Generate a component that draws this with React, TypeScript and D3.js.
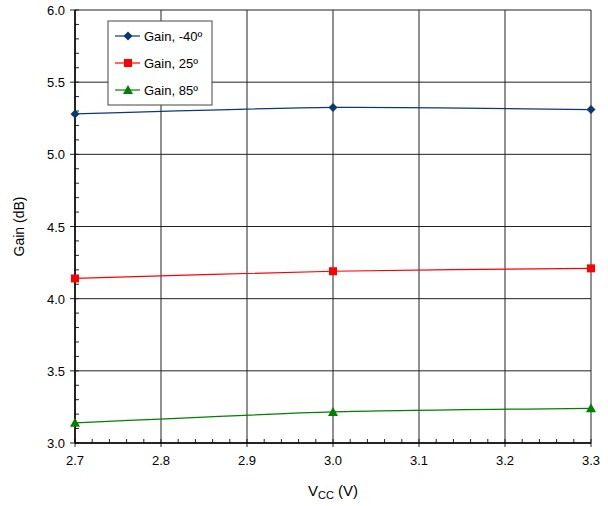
import React from "react";
import * as d3 from "d3";

const vcc = [2.7, 3.0, 3.3];
const gainM40 = [5.28, 5.325, 5.31];
const gain25 = [4.14, 4.19, 4.21];
const gain85 = [3.14, 3.215, 3.24];
const xTicks = [2.7, 2.8, 2.9, 3.0, 3.1, 3.2, 3.3];
const yTicks = [3.0, 3.5, 4.0, 4.5, 5.0, 5.5, 6.0];
const seriesNames = ["Gain, -40º", "Gain, 25º", "Gain, 85º"];

const W = 608, H = 506;
const L = 75, R = 591, T = 10, B = 443;

export default function App() {
  const x = d3.scaleLinear().domain([2.7, 3.3]).range([L, R]);
  const y = d3.scaleLinear().domain([3.0, 6.0]).range([B, T]);
  const line = d3.line<number>().x((_, i) => x(vcc[i])).y((d) => y(d)).curve(d3.curveCardinal.tension(0.3));
  const series = [
    { name: seriesNames[0], data: gainM40, color: "#0b3a73", marker: "diamond" },
    { name: seriesNames[1], data: gain25, color: "#ff0000", marker: "square" },
    { name: seriesNames[2], data: gain85, color: "#008000", marker: "triangle" },
  ];
  const xMinor = d3.range(0, 31).map((i) => 2.7 + i * 0.02);
  const yMinor = d3.range(0, 31).map((i) => 3.0 + i * 0.1);
  const font = "Liberation Sans, Arial, sans-serif";

  const marker = (m: string, cx: number, cy: number, color: string, key: any) => {
    if (m === "diamond")
      return <path key={key} d={`M${cx},${cy - 4.5}L${cx + 4.5},${cy}L${cx},${cy + 4.5}L${cx - 4.5},${cy}Z`} fill={color} />;
    if (m === "square") return <rect key={key} x={cx - 4} y={cy - 4} width={8} height={8} fill={color} />;
    return <path key={key} d={`M${cx},${cy - 5}L${cx + 5},${cy + 4}L${cx - 5},${cy + 4}Z`} fill={color} />;
  };

  return (
    <svg width={W} height={H} style={{ position: "absolute", left: 0, top: 0, background: "#fff" }} fontFamily={font}>
      <rect x={0} y={0} width={W} height={H} fill="#fff" />
      {/* grid */}
      {yTicks.map((t) => (
        <line key={"gy" + t} x1={L - 5} x2={R} y1={y(t)} y2={y(t)} stroke="#222" strokeWidth={1} />
      ))}
      {xTicks.map((t) => (
        <line key={"gx" + t} x1={x(t)} x2={x(t)} y1={T} y2={B + 4} stroke="#222" strokeWidth={1} />
      ))}
      {/* minor ticks */}
      {yMinor.map((t, i) => (
        <line key={"my" + i} x1={L} x2={L + 4} y1={y(t)} y2={y(t)} stroke="#222" strokeWidth={1} />
      ))}
      {xMinor.map((t, i) => (
        <line key={"mx" + i} x1={x(t)} x2={x(t)} y1={B} y2={B - 4} stroke="#222" strokeWidth={1} />
      ))}
      <line x1={L} x2={L} y1={T} y2={B} stroke="#000" strokeWidth={1.5} />
      <line x1={L} x2={R} y1={B} y2={B} stroke="#000" strokeWidth={1.5} />
      {/* labels */}
      {yTicks.map((t) => (
        <text key={"ly" + t} x={L - 10} y={y(t) + 5} textAnchor="end" fontSize={13} fill="#000">
          {t.toFixed(1)}
        </text>
      ))}
      {xTicks.map((t) => (
        <text key={"lx" + t} x={x(t)} y={B + 22} textAnchor="middle" fontSize={13} fill="#000">
          {t.toFixed(1)}
        </text>
      ))}
      <text x={333} y={496} textAnchor="middle" fontSize={15} fill="#000">
        V<tspan fontSize={11} dy={3}>CC</tspan><tspan dy={-3}> (V)</tspan>
      </text>
      <text transform={`translate(24,${(T + B) / 2}) rotate(-90)`} textAnchor="middle" fontSize={14} fill="#000">
        Gain (dB)
      </text>
      {/* series */}
      {series.map((s) => (
        <g key={s.name}>
          <path d={line(s.data) || ""} fill="none" stroke={s.color} strokeWidth={1.2} />
          {s.data.map((d, i) => marker(s.marker, x(vcc[i]), y(d), s.color, i))}
        </g>
      ))}
      {/* legend */}
      <rect x={108} y={21} width={104} height={84} fill="#fff" stroke="#444" strokeWidth={1} />
      {series.map((s, i) => {
        const ly = 36 + i * 27;
        return (
          <g key={"lg" + i}>
            <line x1={115} x2={140} y1={ly} y2={ly} stroke={s.color} strokeWidth={1.2} />
            {marker(s.marker, 128, ly, s.color, "m")}
            <text x={144} y={ly + 5} fontSize={13} fill="#000">
              {s.name}
            </text>
          </g>
        );
      })}
    </svg>
  );
}
